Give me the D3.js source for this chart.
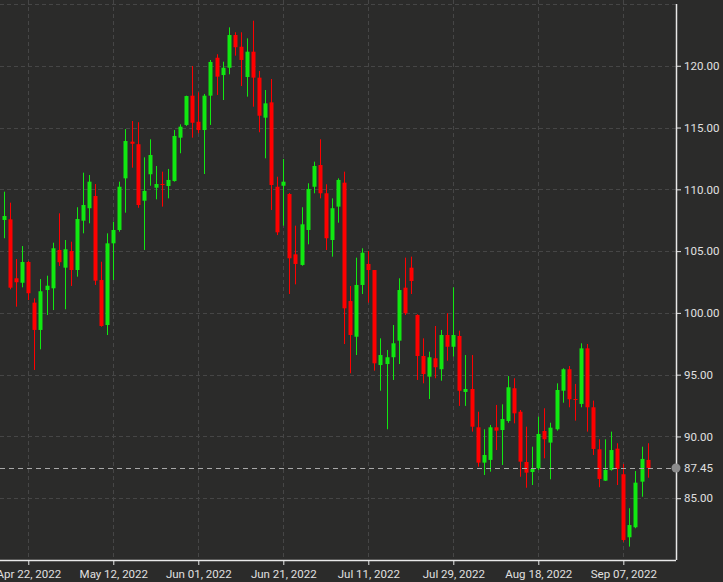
<!DOCTYPE html>
<html>
<head>
<meta charset="utf-8">
<script src="https://cdn.jsdelivr.net/npm/d3@7"></script>
<style>
html,body{margin:0;padding:0;background:#2b2b2a;}
svg{display:block;}
text{font-family:Roboto, "Liberation Sans", sans-serif;}
</style>
</head>
<body>
<svg id="chart" width="723" height="582"></svg>
<script>
const dates = [
"2022-04-18","2022-04-19","2022-04-20","2022-04-21","2022-04-22","2022-04-25","2022-04-26","2022-04-27","2022-04-28","2022-04-29",
"2022-05-02","2022-05-03","2022-05-04","2022-05-05","2022-05-06","2022-05-09","2022-05-10","2022-05-11","2022-05-12","2022-05-13",
"2022-05-16","2022-05-17","2022-05-18","2022-05-19","2022-05-20","2022-05-23","2022-05-24","2022-05-25","2022-05-26","2022-05-27",
"2022-05-30","2022-05-31","2022-06-01","2022-06-02","2022-06-03","2022-06-06","2022-06-07","2022-06-08","2022-06-09","2022-06-10",
"2022-06-13","2022-06-14","2022-06-15","2022-06-16","2022-06-17","2022-06-20","2022-06-21","2022-06-22","2022-06-23","2022-06-24",
"2022-06-27","2022-06-28","2022-06-29","2022-06-30","2022-07-01","2022-07-04","2022-07-05","2022-07-06","2022-07-07","2022-07-08",
"2022-07-11","2022-07-12","2022-07-13","2022-07-14","2022-07-15","2022-07-18","2022-07-19","2022-07-20","2022-07-21","2022-07-22",
"2022-07-25","2022-07-26","2022-07-27","2022-07-28","2022-07-29","2022-08-01","2022-08-02","2022-08-03","2022-08-04","2022-08-05",
"2022-08-08","2022-08-09","2022-08-10","2022-08-11","2022-08-12","2022-08-15","2022-08-16","2022-08-17","2022-08-18","2022-08-19",
"2022-08-22","2022-08-23","2022-08-24","2022-08-25","2022-08-26","2022-08-29","2022-08-30","2022-08-31","2022-09-01","2022-09-02",
"2022-09-05","2022-09-06","2022-09-07","2022-09-08","2022-09-09","2022-09-12","2022-09-13"
];
const open = [
107.52,107.57,102.80,102.44,104.12,100.83,98.62,101.85,101.99,105.09,
103.66,105.01,103.47,107.46,108.47,109.46,102.66,99.02,105.63,106.71,
110.89,113.86,113.65,109.08,111.22,110.13,110.43,110.27,110.67,114.18,
115.21,117.58,115.47,114.80,117.58,120.65,119.25,119.84,122.49,121.54,
119.09,121.14,119.04,115.80,117.04,110.21,110.29,109.62,104.74,103.88,
106.71,110.21,111.97,109.68,105.90,108.60,110.54,100.96,98.07,102.26,
103.96,103.47,95.78,95.86,96.41,97.75,102.04,103.66,99.83,96.51,
94.84,96.33,95.44,98.21,97.26,98.13,93.60,93.84,90.74,87.88,
88.10,90.74,90.52,91.25,93.90,92.00,87.93,87.12,87.42,90.44,
89.50,90.58,93.70,95.44,93.03,92.63,97.13,92.36,88.96,86.42,
87.29,89.01,86.94,81.84,82.65,86.34,88.10
];
const high = [
109.81,108.92,104.36,105.41,104.20,101.18,102.74,103.01,105.68,108.06,
105.90,105.76,108.55,111.35,111.16,110.43,104.14,106.44,107.38,110.62,
114.88,115.53,115.43,112.59,114.05,111.89,111.43,111.65,114.80,115.26,
117.58,119.98,117.85,117.72,120.47,120.93,120.33,123.11,122.71,122.71,
122.22,123.65,119.58,118.04,118.93,111.02,112.46,109.70,107.06,108.55,
110.49,112.24,114.05,110.41,109.27,110.89,111.43,102.18,104.47,105.23,
105.01,103.47,97.94,97.00,99.02,102.80,104.47,104.55,99.89,97.94,
96.86,98.94,98.62,99.97,102.07,98.56,96.59,96.59,92.00,90.58,
90.93,92.55,92.60,94.89,94.71,92.14,90.79,89.17,91.60,92.28,
91.11,94.30,95.52,95.70,94.25,97.54,97.48,92.90,89.77,89.77,
90.39,89.45,87.77,84.19,87.20,89.17,89.45
];
const low = [
106.04,101.91,100.50,102.07,101.04,95.38,97.05,99.83,100.23,103.80,
100.29,102.18,102.93,106.44,107.25,102.26,98.88,98.21,102.66,106.57,
108.11,111.75,108.51,105.09,110.29,109.19,108.60,109.27,110.62,112.92,
115.13,114.18,114.54,111.24,115.21,117.64,117.23,119.31,120.82,118.36,
117.50,116.69,114.62,112.51,108.33,106.30,107.06,101.53,102.31,103.82,
105.55,109.68,109.27,105.09,104.55,107.30,97.48,95.11,96.59,101.53,
100.83,95.32,93.70,90.58,94.57,95.86,99.83,101.53,94.57,94.30,
93.03,94.71,94.51,96.13,96.46,92.47,92.47,90.39,87.55,86.88,
87.15,88.90,87.69,91.11,91.06,86.74,85.85,86.07,87.29,88.23,
86.53,90.47,92.73,92.36,91.28,92.36,90.39,88.50,85.89,86.40,
87.23,86.07,81.48,81.08,82.57,85.12,86.66
];
const close = [
107.84,102.04,102.48,104.12,101.59,98.62,101.75,102.20,105.23,104.10,
105.15,103.47,107.60,108.73,110.62,102.61,98.94,105.63,106.71,110.21,
113.91,113.69,108.73,109.87,112.78,110.43,110.35,110.76,114.32,115.07,
117.55,115.39,114.80,117.58,120.31,119.12,119.84,122.49,121.50,120.47,
121.14,119.04,115.96,116.96,110.35,106.52,110.62,104.42,103.96,107.17,
110.03,111.89,109.68,106.04,108.47,110.76,100.37,98.21,102.26,104.87,
103.47,95.92,96.59,96.41,97.54,101.85,99.97,102.58,96.51,95.05,
96.41,95.60,98.21,97.26,98.21,93.70,93.84,90.79,87.88,88.50,
90.74,90.47,91.41,93.98,91.87,87.96,87.07,87.37,90.20,89.77,
90.71,93.76,95.44,93.01,92.95,97.13,92.36,88.99,86.56,87.29,
88.90,87.37,81.62,82.83,86.26,88.18,87.45
];
const xTickDates = ["2022-04-22","2022-05-12","2022-06-01","2022-06-21","2022-07-11","2022-07-29","2022-08-18","2022-09-07"];
const yTickValues = [85,90,95,100,105,110,115,120];
const gridValues = [85,90,95,100,105,110,115,120,125];
const lastPrice = 87.45;

const W = 723, H = 582;
const plotRight = 676, plotTop = 4, plotBottom = 560;
const svg = d3.select("#chart");
svg.append("rect").attr("width", W).attr("height", H).attr("fill", "#2b2b2a");

const x = d3.scalePoint().domain(dates).range([4.0, 647.6]);
const y = d3.scaleLinear().domain([80, 125]).range([plotBottom, plotTop]);

const gridColor = "#464646";
// horizontal grid
svg.append("g").selectAll("line").data(gridValues).join("line")
  .attr("x1", 0).attr("x2", plotRight)
  .attr("y1", d => Math.round(y(d)) + 0.5).attr("y2", d => Math.round(y(d)) + 0.5)
  .attr("stroke", gridColor).attr("stroke-width", 1).attr("stroke-dasharray", "4,3");
// vertical grid
svg.append("g").selectAll("line").data(xTickDates).join("line")
  .attr("x1", d => Math.round(x(d)) + 0.5).attr("x2", d => Math.round(x(d)) + 0.5)
  .attr("y1", 0).attr("y2", plotBottom)
  .attr("stroke", gridColor).attr("stroke-width", 1).attr("stroke-dasharray", "4,3");

// candles
const green = "#11e811", red = "#ff0000";
const idx = d3.range(dates.length);
const g = svg.append("g");
g.selectAll("line.wick").data(idx).join("line").attr("class", "wick")
  .attr("x1", i => Math.round(x(dates[i])) + 0.5).attr("x2", i => Math.round(x(dates[i])) + 0.5)
  .attr("y1", i => y(high[i])).attr("y2", i => y(low[i]))
  .attr("stroke", i => close[i] >= open[i] ? green : red).attr("stroke-width", 1);
g.selectAll("rect.body").data(idx).join("rect").attr("class", "body")
  .attr("x", i => Math.round(x(dates[i])) + 0.5 - 2)
  .attr("width", 4)
  .attr("y", i => y(Math.max(open[i], close[i])))
  .attr("height", i => Math.max(1, Math.abs(y(open[i]) - y(close[i]))))
  .attr("fill", i => close[i] >= open[i] ? green : red);

// last price line
svg.append("line")
  .attr("x1", 0).attr("x2", plotRight)
  .attr("y1", Math.round(y(lastPrice)) + 0.5).attr("y2", Math.round(y(lastPrice)) + 0.5)
  .attr("stroke", "#a8a8a8").attr("stroke-width", 1).attr("stroke-dasharray", "5,4");

// axes
const fmt = d3.timeFormat("%b %d, %Y");
const parse = d3.timeParse("%Y-%m-%d");
const xAxis = d3.axisBottom(x).tickValues(xTickDates).tickSize(5).tickSizeOuter(0)
  .tickFormat(d => fmt(parse(d)));
const gx = svg.append("g").attr("transform", `translate(0,${plotBottom})`).call(xAxis);
gx.select(".domain").attr("d", `M0,0.5H${plotRight}`).attr("stroke", "#e8e8e8").attr("stroke-width", 1.5);
gx.selectAll(".tick line").attr("stroke", "#e8e8e8");
gx.selectAll(".tick text").attr("fill", "#e0e0e0").attr("font-size", "11.5px").attr("dy", "0.9em")
  .attr("font-family", "Roboto, sans-serif");

const yAxis = d3.axisRight(y).tickValues(yTickValues).tickSize(5).tickSizeOuter(0).tickFormat(d3.format(".2f"));
const gy = svg.append("g").attr("transform", `translate(${plotRight},0)`).call(yAxis);
gy.select(".domain").attr("d", `M0.5,${plotTop}V${plotBottom}`).attr("stroke", "#e8e8e8").attr("stroke-width", 1.5);
gy.selectAll(".tick line").attr("stroke", "#e8e8e8");
gy.selectAll(".tick text").attr("fill", "#e0e0e0").attr("font-size", "11.5px").attr("x", 8)
  .attr("font-family", "Roboto, sans-serif");

// last price marker
svg.append("circle").attr("cx", plotRight).attr("cy", y(lastPrice)).attr("r", 4.5).attr("fill", "#8c8c8c");
svg.append("text").attr("x", plotRight + 8).attr("y", y(lastPrice)).attr("dy", "0.32em")
  .attr("fill", "#e0e0e0").attr("font-size", "11.5px").text(d3.format(".2f")(lastPrice));
</script>
</body>
</html>
